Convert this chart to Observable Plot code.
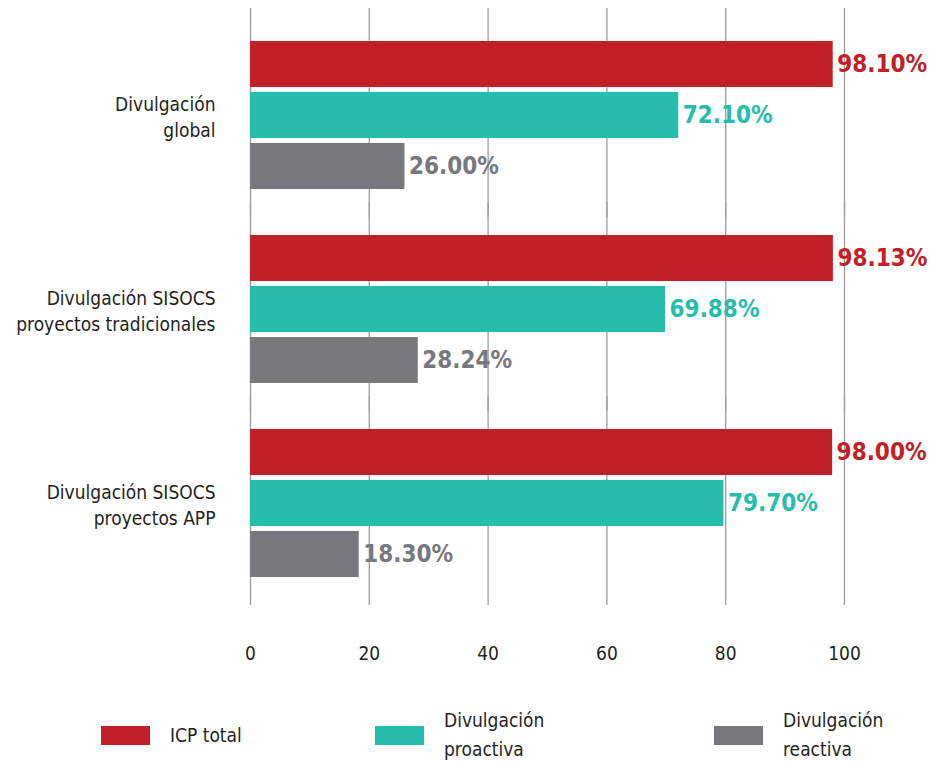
<!DOCTYPE html>
<html>
<head>
<meta charset="utf-8">
<script src="https://cdn.jsdelivr.net/npm/d3@7"></script>
<script src="https://cdn.jsdelivr.net/npm/@observablehq/plot@0.6"></script>
<style>
  body { margin: 0; background: #fff; font-family: "Liberation Sans Narrow", "DejaVu Sans Condensed", "Liberation Sans", sans-serif; }
  #wrap { position: relative; width: 934px; height: 770px; }
  .legend { position: absolute; top: 700px; left: 0; width: 934px; height: 70px; }
  .item { position: absolute; display: flex; align-items: center; }
  .sw { width: 49px; height: 19px; margin-right: 20px; }
  .lab { font-size: 19px; line-height: 29px; color: #231f20; }
</style>
</head>
<body>
<div id="wrap">
  <div id="chart"></div>
  <div class="legend" id="legend"></div>
</div>
<script>
const categories = ["Divulgación global", "Divulgación SISOCS proyectos tradicionales", "Divulgación SISOCS proyectos APP"];
const categoryLabels = ["Divulgación\nglobal", "Divulgación SISOCS\nproyectos tradicionales", "Divulgación SISOCS\nproyectos APP"];
const series = ["ICP total", "Divulgación proactiva", "Divulgación reactiva"];
const seriesLegendLabels = ["ICP total", "Divulgación\nproactiva", "Divulgación\nreactiva"];
const seriesColors = ["#c12026", "#26bdad", "#76787b"];
const icpTotal = [98.10, 98.13, 98.00];
const proactiva = [72.10, 69.88, 79.70];
const reactiva = [26.00, 28.24, 18.30];
const xTicks = [0, 20, 40, 60, 80, 100];

const valuesBySeries = [icpTotal, proactiva, reactiva];
const rows = [];
categories.forEach((c, i) => {
  series.forEach((s, j) => {
    rows.push({category: c, series: s, value: valuesBySeries[j][i]});
  });
});
const catRows = categories.map((c, i) => ({category: c, label: categoryLabels[i]}));

const font = '"Liberation Sans Narrow", "DejaVu Sans Condensed", "Liberation Sans", sans-serif';

const chart = Plot.plot({
  width: 934,
  height: 700,
  marginLeft: 250,
  marginRight: 90,
  marginTop: 17,
  marginBottom: 100,
  style: {fontFamily: font, fontSize: "19px", color: "#231f20", background: "#fff"},
  x: {domain: [0, 100], ticks: xTicks, tickSize: 0, tickPadding: 46, label: null, tickFormat: d => String(d)},
  y: {domain: series, paddingInner: 0.1, paddingOuter: 0.42, axis: null},
  fy: {domain: categories, padding: 0, axis: null},
  color: {domain: series, range: seriesColors},
  marks: [
    Plot.ruleX(xTicks, {stroke: "#9d9d9d", strokeWidth: 1.3, insetTop: -10, insetBottom: -5}),
    Plot.barX(rows, {x: "value", y: "series", fy: "category", fill: "series"}),
    Plot.text(rows, {
      x: "value", y: "series", fy: "category", fill: "series",
      text: d => d.value.toFixed(2) + "%",
      textAnchor: "start", dx: 4,
      fontSize: 24, fontWeight: "bold"
    }),
    Plot.text(catRows, {
      fy: "category", text: "label", frameAnchor: "left",
      textAnchor: "end", dx: -35, lineHeight: 1.4, fontSize: 19, fill: "#231f20"
    })
  ]
});
document.getElementById("chart").appendChild(chart);

const legend = document.getElementById("legend");
const legendX = [101, 375, 714];
series.forEach((s, i) => {
  const item = document.createElement("div");
  item.className = "item";
  item.style.left = legendX[i] + "px";
  item.style.top = "0px";
  item.style.height = "70px";
  const sw = document.createElement("div");
  sw.className = "sw";
  sw.style.background = seriesColors[i];
  const lab = document.createElement("div");
  lab.className = "lab";
  lab.innerHTML = seriesLegendLabels[i].split("\n").join("<br>");
  item.appendChild(sw);
  item.appendChild(lab);
  legend.appendChild(item);
});
</script>
</body>
</html>
